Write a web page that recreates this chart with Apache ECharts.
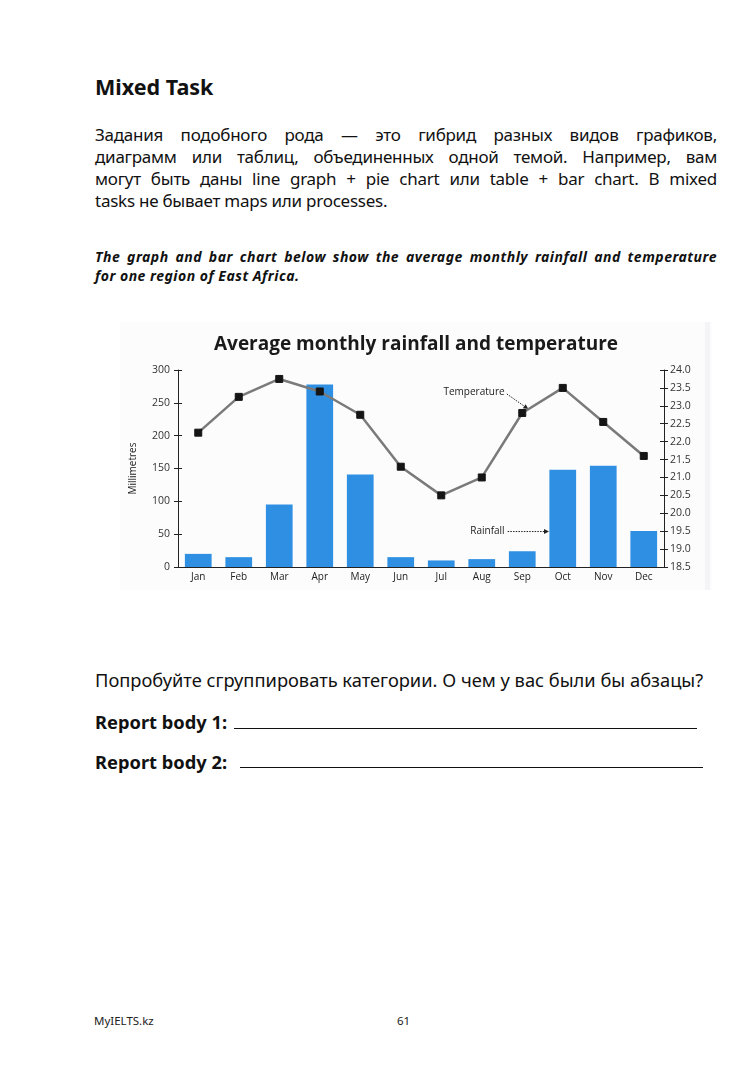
<!DOCTYPE html>
<html>
<head>
<meta charset="utf-8">
<script src="https://cdn.jsdelivr.net/npm/echarts@6/dist/echarts.min.js"></script>
<style>
html,body{margin:0;padding:0;background:#fff;}
body{width:752px;height:1072px;position:relative;overflow:hidden;font-family:'Noto Sans','Open Sans',sans-serif;color:#111;}
.t{position:absolute;left:95px;white-space:nowrap;line-height:1;}
.j{width:622px;white-space:normal;text-align:justify;text-align-last:justify;}
.h1{font-size:21.5px;font-weight:bold;}
.body{font-size:17px;letter-spacing:-0.25px;}
.it{font-size:14px;font-weight:bold;font-style:italic;letter-spacing:0.5px;}
.q{font-size:18.3px;}
.rb{font-size:18.3px;font-weight:bold;}
.uline{position:absolute;height:0;border-bottom:1.6px solid #111;}
.foot{position:absolute;font-size:11.5px;line-height:1;color:#222;}
#chart{position:absolute;left:120px;top:322px;width:592px;height:268px;background:#fcfcfc;}
</style>
</head>
<body>
<div class="t h1" style="top:76px;">Mixed Task</div>

<div class="t body j" style="top:125.9px;">Задания подобного рода — это гибрид разных видов графиков,</div>
<div class="t body j" style="top:147.9px;">диаграмм или таблиц, объединенных одной темой. Например, вам</div>
<div class="t body j" style="top:170.1px;">могут быть даны line graph + pie chart или table + bar chart. В mixed</div>
<div class="t body" style="top:192.3px;">tasks не бывает maps или processes.</div>

<div class="t it j" style="top:249.6px;">The graph and bar chart below show the average monthly rainfall and temperature</div>
<div class="t it" style="top:268.7px;">for one region of East Africa.</div>

<div id="chart"></div>

<div class="t q" style="top:671px;">Попробуйте сгруппировать категории. О чем у вас были бы абзацы?</div>
<div class="t rb" style="top:712.5px;">Report body 1:</div>
<div class="uline" style="left:234px;width:463px;top:727.5px;"></div>
<div class="t rb" style="top:752.5px;">Report body 2:</div>
<div class="uline" style="left:240px;width:463px;top:766.5px;"></div>

<div class="foot" style="left:94px;top:1015px;">MyIELTS.kz</div>
<div class="foot" style="left:397px;top:1015px;">61</div>

<script>
// ---- data ----
const months = ['Jan','Feb','Mar','Apr','May','Jun','Jul','Aug','Sep','Oct','Nov','Dec'];
const rainfall = [20, 15, 95, 278, 141, 15, 10, 12, 24, 148, 154, 55];          // millimetres
const temperature = [22.25, 23.25, 23.75, 23.4, 22.75, 21.3, 20.5, 21.0, 22.8, 23.5, 22.55, 21.6]; // degrees
const rainTicks = [0, 50, 100, 150, 200, 250, 300];
const tempTicks = [18.5, 19.0, 19.5, 20.0, 20.5, 21.0, 21.5, 22.0, 22.5, 23.0, 23.5, 24.0];
const chartTitle = 'Average monthly rainfall and temperature';

const chart = echarts.init(document.getElementById('chart'), null, {renderer: 'canvas'});
const axisColor = '#222';
const lblFont = "'Open Sans','Noto Sans',sans-serif";
const narrowFont = "'Liberation Sans Narrow','Open Sans',sans-serif";

function yAxisBase(ticks, pos) {
  return {
    type: 'value', position: pos,
    min: ticks[0], max: ticks[ticks.length - 1], interval: ticks[1] - ticks[0],
    splitLine: {show: false}
  };
}

const option = {
  animation: false,
  backgroundColor: 'transparent',
  title: {
    text: chartTitle, left: 'center', top: 8,
    textStyle: {fontFamily: lblFont, fontSize: 19, fontWeight: 'bold', color: '#1a1a1a'}
  },
  grid: {left: 53, right: 48, top: 48, bottom: 23, containLabel: false},
  xAxis: {
    type: 'category', data: months, boundaryGap: true,
    axisLine: {show: true, lineStyle: {color: axisColor, width: 1}},
    axisTick: {show: false},
    axisLabel: {fontFamily: lblFont, fontSize: 10, color: '#222', margin: 5}
  },
  yAxis: [
    Object.assign(yAxisBase(rainTicks, 'left'), {
      name: 'Millimetres', nameLocation: 'middle', nameRotate: 90, nameGap: 40,
      nameTextStyle: {fontFamily: lblFont, fontSize: 10, color: '#222'},
      axisLine: {show: true, lineStyle: {color: axisColor, width: 1}},
      axisTick: {show: true, length: 4, lineStyle: {color: axisColor}},
      axisLabel: {fontFamily: lblFont, fontSize: 10.5, color: '#333', margin: 8}
    }),
    Object.assign(yAxisBase(tempTicks, 'right'), {
      axisLine: {show: true, lineStyle: {color: axisColor, width: 1}},
      axisTick: {show: true, length: 4, lineStyle: {color: axisColor}},
      axisLabel: {fontFamily: narrowFont, fontSize: 10.5, color: '#333', margin: 6,
        formatter: v => v.toFixed(1)}
    }),
    Object.assign(yAxisBase(rainTicks, 'left'), {
      axisLine: {show: false},
      axisTick: {show: true, inside: true, length: 4, lineStyle: {color: axisColor}},
      axisLabel: {show: false}
    }),
    Object.assign(yAxisBase(tempTicks, 'right'), {
      axisLine: {show: false},
      axisTick: {show: true, inside: true, length: 4, lineStyle: {color: axisColor}},
      axisLabel: {show: false}
    })
  ],
  series: [
    {
      name: 'Rainfall', type: 'bar', data: rainfall, yAxisIndex: 0,
      barWidth: '66%', itemStyle: {color: '#2f8fe3'}, z: 2
    },
    {
      name: 'Temperature', type: 'line', data: temperature, yAxisIndex: 1,
      symbol: 'rect', symbolSize: 7, showSymbol: true,
      lineStyle: {color: '#7a7a7a', width: 2.5},
      itemStyle: {color: '#151515', borderColor: '#151515'}, z: 3
    }
  ]
};
chart.setOption(option);

// annotation anchors (category index, millimetres) converted through the chart scales
function px(idx, mm) {
  const i0 = Math.floor(idx), f = idx - i0;
  const a = chart.convertToPixel({xAxisIndex: 0, yAxisIndex: 0}, [i0, mm]);
  const b = chart.convertToPixel({xAxisIndex: 0, yAxisIndex: 0}, [i0 + 1, mm]);
  return [a[0] + (b[0] - a[0]) * f, a[1]];
}
function arrow(p1, p2) {
  const ang = Math.atan2(p2[1] - p1[1], p2[0] - p1[0]);
  const L = 5, W = 2.5;
  const bx = p2[0] - L * Math.cos(ang), by = p2[1] - L * Math.sin(ang);
  return [
    {type: 'line', shape: {x1: p1[0], y1: p1[1], x2: bx, y2: by},
      style: {stroke: '#222', lineWidth: 1, lineDash: [1.5, 1.2]}},
    {type: 'polygon', shape: {points: [p2,
      [bx + W * Math.sin(ang), by - W * Math.cos(ang)],
      [bx - W * Math.sin(ang), by + W * Math.cos(ang)]]},
      style: {fill: '#222'}}
  ];
}
const tText = px(7.565, 267), tA = px(7.62, 263.5), tB = px(8.15, 240.5);
const rText = px(7.565, 54), rA = px(7.64, 54), rB = px(8.66, 54);
const W = chart.getWidth(), H = chart.getHeight();
chart.setOption({
  graphic: [
    {type: 'rect', shape: {x: W - 7, y: 0, width: 5, height: H}, style: {fill: '#f4f4f7'}, z: -1, silent: true},
    {type: 'text', x: tText[0], y: tText[1], style: {text: 'Temperature', fill: '#222',
      font: "10px 'Open Sans','Noto Sans',sans-serif", align: 'right', verticalAlign: 'middle'}},
    {type: 'text', x: rText[0], y: rText[1], style: {text: 'Rainfall', fill: '#222',
      font: "10px 'Open Sans','Noto Sans',sans-serif", align: 'right', verticalAlign: 'middle'}}
  ].concat(arrow(tA, tB), arrow(rA, rB))
});
</script>
</body>
</html>
